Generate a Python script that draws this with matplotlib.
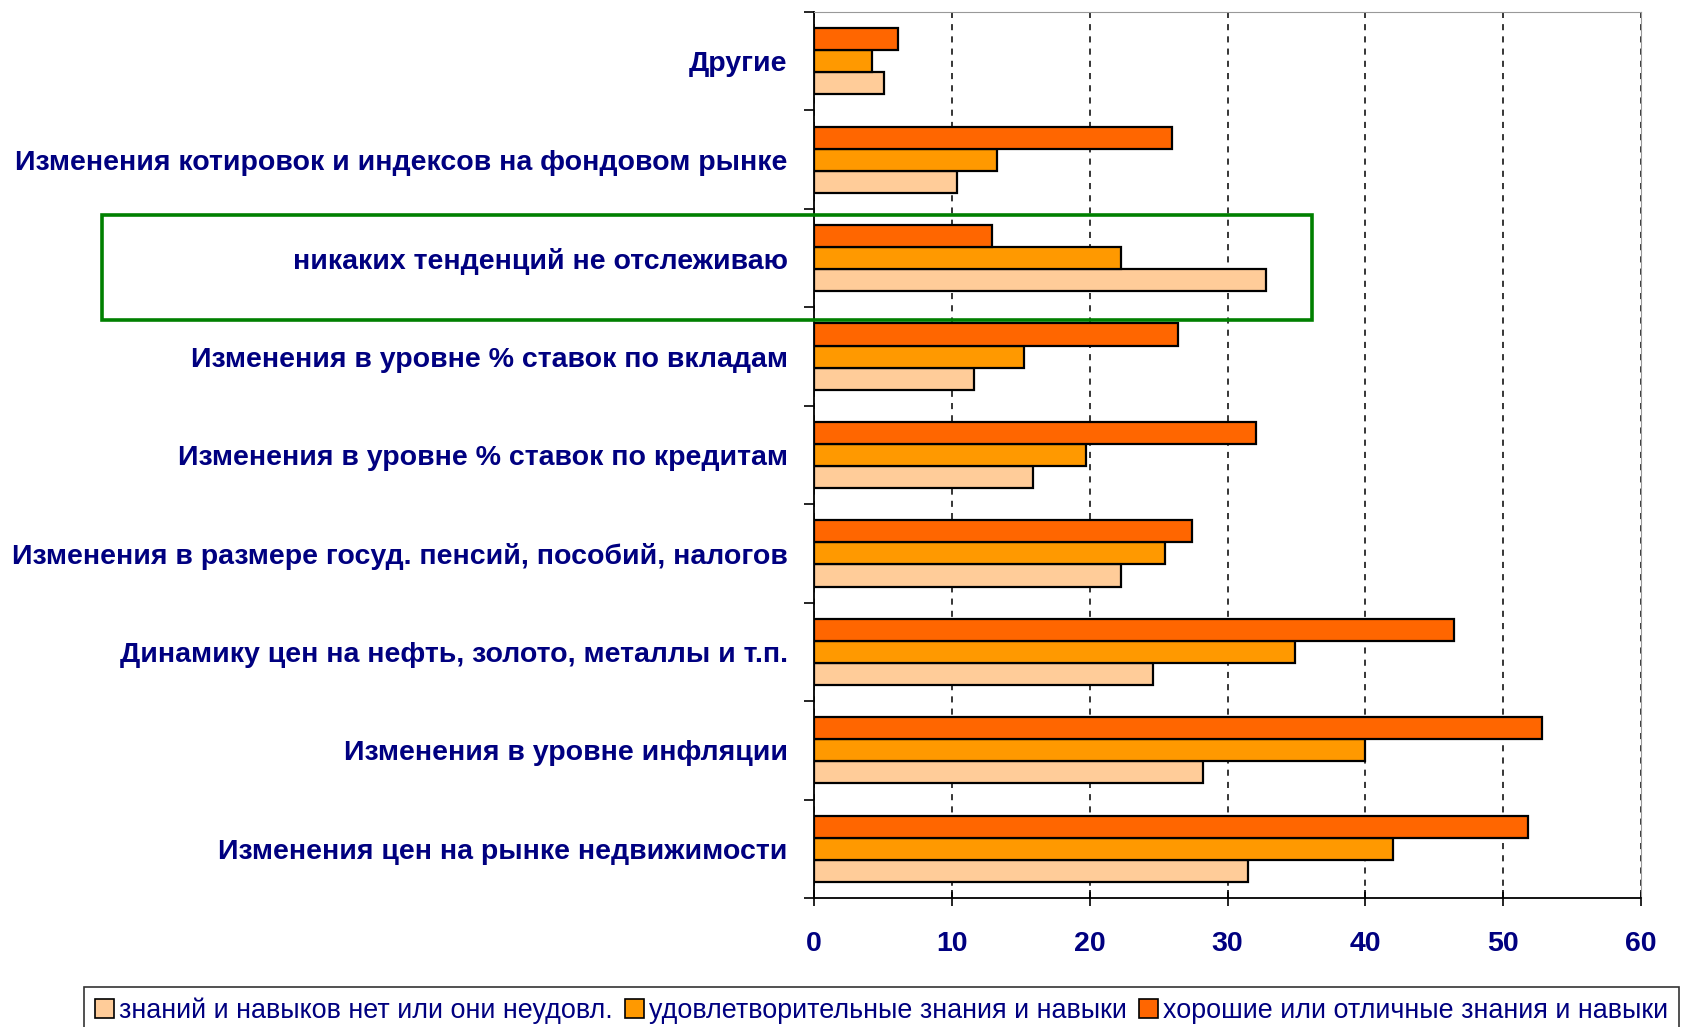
import matplotlib
matplotlib.use("Agg")
import matplotlib.pyplot as plt
import numpy as np
from matplotlib.patches import Rectangle, Patch
from matplotlib.ticker import FixedLocator

categories = [
    "Изменения цен на рынке недвижимости",
    "Изменения в уровне инфляции",
    "Динамику цен на нефть, золото, металлы и т.п.",
    "Изменения в размере госуд. пенсий, пособий, налогов",
    "Изменения в уровне % ставок по кредитам",
    "Изменения в уровне % ставок по вкладам",
    "никаких тенденций не отслеживаю",
    "Изменения котировок и индексов на фондовом рынке",
    "Другие",
]
series_names = [
    "знаний и навыков нет или они неудовл.",
    "удовлетворительные знания и навыки",
    "хорошие или отличные знания и навыки",
]
no_skills = [31.5, 28.2, 24.6, 22.3, 15.9, 11.6, 32.8, 10.4, 5.1]
satisfactory = [42.0, 40.0, 34.9, 25.5, 19.7, 15.2, 22.3, 13.3, 4.2]
good = [51.8, 52.8, 46.4, 27.4, 32.1, 26.4, 12.9, 26.0, 6.1]
x_ticks = [0, 10, 20, 30, 40, 50, 60]

colors = ["#FFCC99", "#FF9900", "#FF6600"]
navy = "#000080"

W, H = 1697, 1027
fig = plt.figure(figsize=(W / 100, H / 100), dpi=100)
ax = fig.add_axes([814 / W, 1 - 898 / H, (1641 - 814) / W, (898 - 12) / H])

y = np.arange(len(categories))
h = 0.224
for vals, off, c in zip([no_skills, satisfactory, good], [-h, 0, h], colors):
    ax.barh(y + off, vals, height=h, color=c, edgecolor="black", linewidth=1.6, zorder=3)

ax.set_xlim(0, 60)
ax.set_ylim(-0.5, len(categories) - 0.5)
ax.set_xticks(x_ticks)
ax.set_xticklabels([str(t) for t in x_ticks])
ax.set_yticks(y)
ax.set_yticklabels(categories)
ax.yaxis.set_minor_locator(FixedLocator(np.arange(-0.5, len(categories), 1.0)))
ax.tick_params(axis="y", which="major", length=0, pad=19)
ax.tick_params(axis="y", which="minor", length=7, width=1.2, direction="out")
ax.tick_params(axis="x", which="major", length=12, width=1.2, direction="inout", pad=18)

for lab in ax.get_yticklabels():
    lab.set_fontfamily("Liberation Sans")
    lab.set_fontweight("bold")
    lab.set_fontsize(20.5)
    lab.set_color(navy)
for lab in ax.get_xticklabels():
    lab.set_fontfamily("Liberation Sans")
    lab.set_fontweight("bold")
    lab.set_fontsize(20.5)
    lab.set_color(navy)

ax.grid(axis="x", linestyle=(0, (4, 4)), color="black", linewidth=1.1, zorder=0)
ax.spines["left"].set_color("black")
ax.spines["bottom"].set_color("black")
ax.spines["left"].set_linewidth(1.3)
ax.spines["bottom"].set_linewidth(1.3)
ax.spines["top"].set_color("#999999")
ax.spines["right"].set_color("#999999")

# green highlight box around "никаких тенденций"
fig.patches.append(Rectangle((102 / W, 1 - 320 / H), 1210 / W, 105 / H,
                             transform=fig.transFigure, fill=False,
                             edgecolor="#008000", linewidth=2.6, zorder=10))

handles = [Patch(facecolor=c, edgecolor="black", linewidth=1.2) for c in colors]
leg = fig.legend(handles, series_names, ncol=3, loc="upper left",
                 bbox_to_anchor=(84 / W, 1 - 987 / H), frameon=True, fancybox=False,
                 prop={"family": "Liberation Sans", "size": 19.4},
                 handlelength=0.7, handleheight=0.7, handletextpad=0.2,
                 columnspacing=0.45, borderpad=0.4, borderaxespad=0)
leg.get_frame().set_edgecolor("black")
leg.get_frame().set_linewidth(1.2)
for t in leg.get_texts():
    t.set_color(navy)

fig.savefig("out.png", dpi=100)
